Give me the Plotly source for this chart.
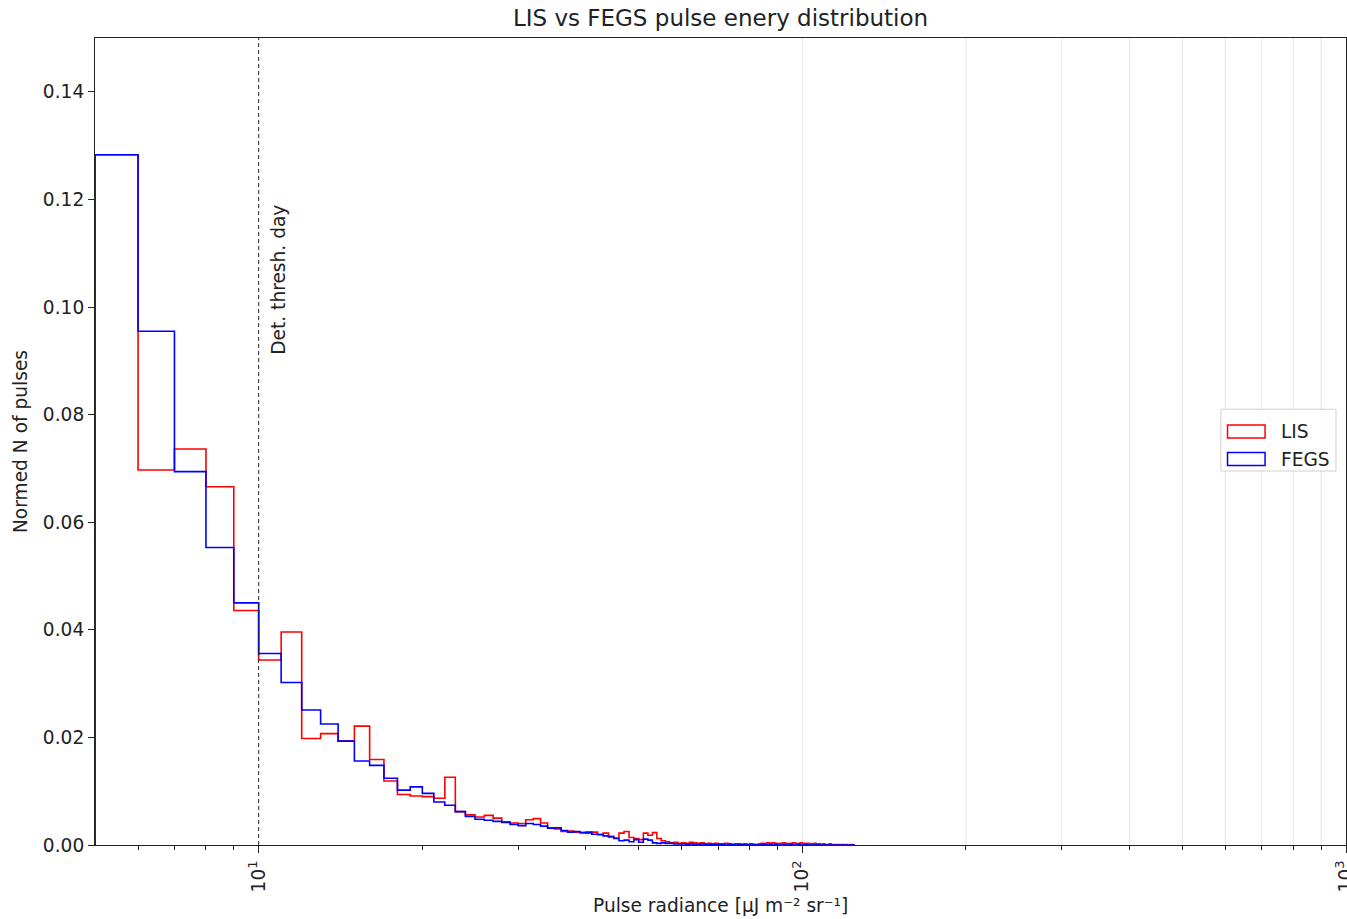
import math
import plotly.graph_objects as go

# ---------------- data ----------------
bin_start = 5          # first bin edge, bins are 1 unit wide
lis = [
    0.1283, 0.0697, 0.0736, 0.0666, 0.0436, 0.0344, 0.0396, 0.0198, 0.0207, 0.0193,   # 5-14
    0.0221, 0.0159, 0.0119, 0.0094, 0.0091, 0.0090, 0.0087, 0.0126, 0.0062, 0.0056,   # 15-24
    0.0052, 0.0055, 0.0050, 0.0043, 0.0041, 0.0040, 0.0047, 0.0049, 0.0041, 0.0032,   # 25-34
    0.0030, 0.0025, 0.0026, 0.0024, 0.0023, 0.0022, 0.0024, 0.0020, 0.0022, 0.0016,   # 35-44
    0.0013, 0.0022, 0.0025, 0.0014, 0.0012, 0.0010, 0.0022, 0.0018, 0.0023, 0.0012,   # 45-54
    0.0008, 0.0006, 0.0004, 0.0005, 0.0003, 0.0004, 0.0003, 0.0005, 0.0004, 0.0003,   # 55-64
    0.0004, 0.0002, 0.0003, 0.0002, 0.0003, 0.0002, 0.0002, 0.0003, 0.0002, 0.0001,   # 65-74
    0.0002, 0.0002, 0.0001, 0.0002, 0.0001, 0.0002, 0.0001, 0.0001, 0.0002, 0.0003,   # 75-84
    0.0002, 0.0004, 0.0003, 0.0004, 0.0003, 0.0002, 0.0003, 0.0004, 0.0003, 0.0002,   # 85-94
    0.0003, 0.0004, 0.0003, 0.0002, 0.0004, 0.0003, 0.0002, 0.0003, 0.0002, 0.0002,   # 95-104
    0.0003, 0.0001, 0.0002, 0.0001, 0.0002, 0.0001, 0.0001, 0.0002, 0.0001, 0.0000,   # 105-114
    0.0001, 0.0001, 0.0000, 0.0001, 0.0000, 0.0001, 0.0000, 0.0000, 0.0001, 0.0000,   # 115-124
]
fegs = [
    0.1283, 0.0955, 0.0694, 0.0553, 0.0450, 0.0356, 0.0302, 0.0251, 0.0225, 0.0193,   # 5-14
    0.0156, 0.0148, 0.0124, 0.0102, 0.0108, 0.0096, 0.0080, 0.0074, 0.0062, 0.0053,   # 15-24
    0.0048, 0.0046, 0.0044, 0.0042, 0.0038, 0.0036, 0.0040, 0.0038, 0.0035, 0.0031,   # 25-34
    0.0032, 0.0027, 0.0024, 0.0025, 0.0023, 0.0024, 0.0020, 0.0019, 0.0017, 0.0015,   # 35-44
    0.0012, 0.0008, 0.0009, 0.0006, 0.0010, 0.0005, 0.0011, 0.0009, 0.0004, 0.0003,   # 45-54
    0.0004, 0.0003, 0.0003, 0.0002, 0.0002, 0.0002, 0.0001, 0.0002, 0.0001, 0.0001,   # 55-64
    0.0002, 0.0001, 0.0001, 0.0001, 0.0001, 0.0001, 0.0001, 0.0000, 0.0001, 0.0001,   # 65-74
    0.0000, 0.0001, 0.0001, 0.0000, 0.0001, 0.0000, 0.0001, 0.0000, 0.0000, 0.0001,   # 75-84
    0.0001, 0.0000, 0.0001, 0.0000, 0.0001, 0.0000, 0.0000, 0.0001, 0.0000, 0.0000,   # 85-94
    0.0001, 0.0000, 0.0000, 0.0001, 0.0000, 0.0000, 0.0001, 0.0000, 0.0000, 0.0000,   # 95-104
    0.0000, 0.0001, 0.0000, 0.0000, 0.0000, 0.0000, 0.0000, 0.0000, 0.0000, 0.0000,   # 105-114
    0.0000, 0.0000, 0.0000, 0.0000, 0.0000, 0.0000, 0.0000, 0.0000, 0.0000, 0.0000,   # 115-124
]
series_names = ["LIS", "FEGS"]
series_colors = ["#ff0000", "#0000ff"]

x_major_ticks = [10, 100, 1000]
x_major_labels = ["10<sup>1</sup>", "10<sup>2</sup>", "10<sup>3</sup>"]
x_minor_ticks = [6, 7, 8, 9, 20, 30, 40, 50, 60, 70, 80, 90,
                 200, 300, 400, 500, 600, 700, 800, 900]
x_grid_lines = [100, 200, 300, 400, 500, 600, 700, 800, 900]
y_ticks = [0.0, 0.02, 0.04, 0.06, 0.08, 0.10, 0.12, 0.14]
threshold_day = 10
threshold_label = "Det. thresh. day"

FONT = "DejaVu Sans"
FS = 18.6
W, H = 1347, 919


def step_outline(values, start):
    edges = list(range(start, start + len(values) + 1))
    xs = [edges[0]] + edges + [edges[-1]]
    ys = [0] + list(values) + [values[-1], 0]
    return xs, ys


fig = go.Figure()
for vals, name, col in zip([lis, fegs], series_names, series_colors):
    xs, ys = step_outline(vals, bin_start)
    fig.add_trace(go.Scatter(x=xs, y=ys, mode="lines", name=name,
                             line=dict(color=col, width=1.6, shape="hv"),
                             showlegend=False))

shapes = []
for g in x_grid_lines:
    shapes.append(dict(type="line", xref="x", yref="paper", x0=g, x1=g, y0=0, y1=1,
                       line=dict(color="#e3e3e3", width=1), layer="below"))
shapes.append(dict(type="line", xref="x", yref="paper", x0=threshold_day, x1=threshold_day,
                   y0=0, y1=1, line=dict(color="#222222", width=1, dash="4px,3px")))

# manual legend (matplotlib style patches)
lx0, lx1, ly0, ly1 = 0.900, 0.992, 0.4634, 0.540
shapes.append(dict(type="rect", xref="paper", yref="paper", x0=lx0, x1=lx1, y0=ly0, y1=ly1,
                   line=dict(color="#d0d0d0", width=1), fillcolor="rgba(255,255,255,0.85)"))
patch_rows = [0.5125, 0.4783]
for row, col in zip(patch_rows, series_colors):
    shapes.append(dict(type="rect", xref="paper", yref="paper",
                       x0=0.9053, x1=0.9353, y0=row - 0.0081, y1=row + 0.0081,
                       line=dict(color=col, width=1.5), fillcolor="rgba(0,0,0,0)"))

annotations = []
for row, name in zip(patch_rows, series_names):
    annotations.append(dict(xref="paper", yref="paper", x=0.9465, y=row, text=name,
                            showarrow=False, xanchor="left", yanchor="middle",
                            font=dict(family=FONT, size=FS, color="#222222")))
annotations.append(dict(xref="x", yref="y", x=math.log10(threshold_day), y=0.105,
                        text=threshold_label, textangle=-90, showarrow=False,
                        xshift=19, font=dict(family=FONT, size=FS, color="#222222")))
annotations.append(dict(xref="paper", yref="paper", x=0.5, y=-0.075,
                        text="Pulse radiance [µJ m⁻² sr⁻¹]", showarrow=False,
                        xanchor="center", yanchor="middle",
                        font=dict(family=FONT, size=FS, color="#222222")))

fig.update_layout(
    width=W, height=H,
    margin=dict(l=95, r=1, t=38, b=74),
    paper_bgcolor="white", plot_bgcolor="white",
    font=dict(family=FONT, size=FS, color="#222222"),
    title=dict(text="LIS vs FEGS pulse enery distribution", x=0.5, xref="paper",
               y=1 - 18 / H, yref="container", xanchor="center", yanchor="middle",
               font=dict(family=FONT, size=23, color="#222222")),
    shapes=shapes, annotations=annotations,
    showlegend=False,
)
fig.update_xaxes(type="log", range=[math.log10(5), 3],
                 tickmode="array", tickvals=x_major_ticks, ticktext=x_major_labels,
                 tickangle=-90, ticks="outside", ticklen=7, tickwidth=1, tickcolor="#222222",
                 ticklabeloverflow="allow",
                 showgrid=False, zeroline=False, showline=True, linecolor="#222222",
                 linewidth=1, mirror=True, automargin=False,
                 minor=dict(tickmode="array", tickvals=x_minor_ticks, ticks="outside",
                            ticklen=4, tickwidth=1, tickcolor="#222222", showgrid=False))
fig.update_yaxes(range=[0, 0.15], tickmode="array", tickvals=y_ticks, tickformat=".2f",
                 ticks="outside", ticklen=6, tickwidth=1, tickcolor="#222222",
                 showgrid=False, zeroline=False, showline=True, linecolor="#222222",
                 linewidth=1, mirror=True, automargin=False,
                 title=dict(text="Normed N of pulses", standoff=10,
                            font=dict(family=FONT, size=FS)))

fig.write_html("out.html",
               config={"displayModeBar": False},
               post_script="document.body.style.margin='0';"
                           "document.body.style.overflow='hidden';")
